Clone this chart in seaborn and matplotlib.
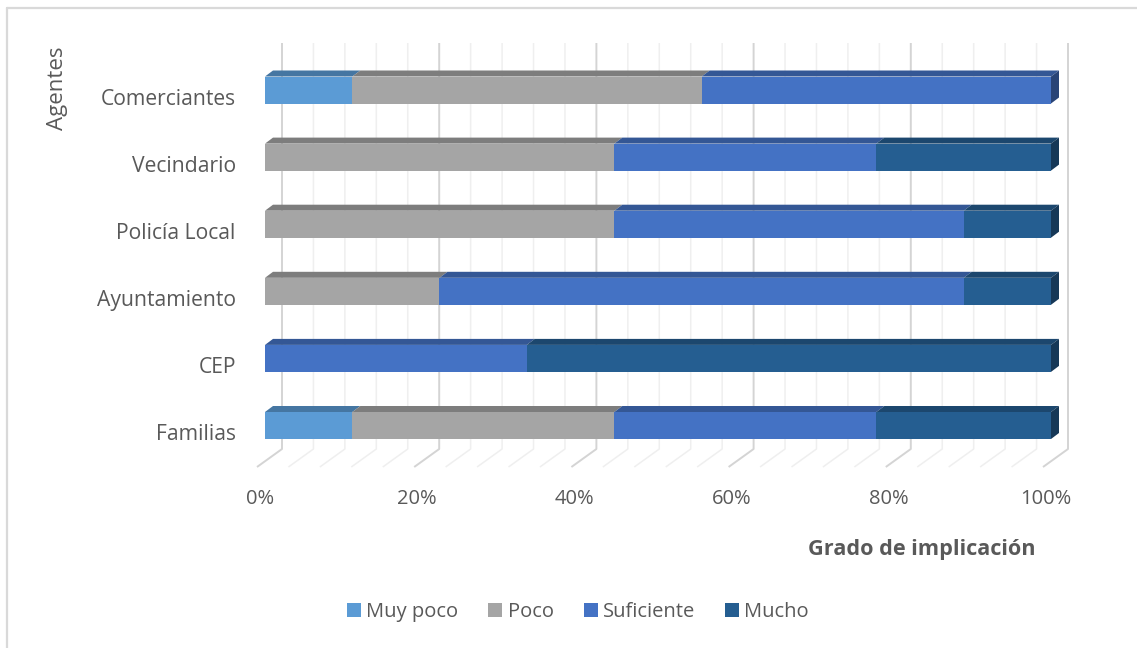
import numpy as np
import pandas as pd
import matplotlib
matplotlib.use("Agg")
import matplotlib.pyplot as plt
import matplotlib.transforms as mtransforms
from matplotlib.patches import Polygon
from matplotlib.lines import Line2D
from matplotlib.patches import Patch
import seaborn as sns

# ---------------- data ----------------
categories = ["Comerciantes", "Vecindario", "Policía Local", "Ayuntamiento", "CEP", "Familias"]
series_names = ["Muy poco", "Poco", "Suficiente", "Mucho"]
muy_poco = [11.1, 0.0, 0.0, 0.0, 0.0, 11.1]
poco = [44.4, 44.4, 44.4, 22.2, 0.0, 33.3]
suficiente = [44.4, 33.3, 44.4, 66.7, 33.3, 33.3]
mucho = [0.0, 22.2, 11.1, 11.1, 66.7, 22.2]
x_ticks = [0, 20, 40, 60, 80, 100]
x_tick_labels = ["0%", "20%", "40%", "60%", "80%", "100%"]

colors = ["#5B9BD5", "#A5A5A5", "#4472C4", "#255E91"]

# ---------------- style ----------------
sns.set_theme(style="white")
plt.rcParams["font.family"] = ["Open Sans", "DejaVu Sans"]
TXT = "#595959"

W, H = 1137, 648
fig = plt.figure(figsize=(W / 100, H / 100), dpi=100)

# axes placement in pixels
ax_l, ax_r, ax_t, ax_b = 240, 1080, 40, 470
ax = fig.add_axes([ax_l / W, 1 - ax_b / H, (ax_r - ax_l) / W, (ax_b - ax_t) / H])

# pixel mapping of data: 0% -> 265px, 100% -> 1051px ; category centers 90px .. 425.5px
x0px, x100px = 265.0, 1051.0
sx = (x100px - x0px) / 100.0
y0px, y5px = 90.0, 425.5
sy = (y5px - y0px) / 5.0
xlim = ((ax_l - x0px) / sx, 100 + (ax_r - x100px) / sx)
ylim_top = 0 - (y0px - ax_t) / sy
ylim_bot = 5 + (ax_b - y5px) / sy

def ydata(p):
    return ylim_top + (p - ax_t) / sy

df = pd.DataFrame({"Agente": categories, "Muy poco": muy_poco, "Poco": poco,
                   "Suficiente": suficiente, "Mucho": mucho})
vals = df[series_names].to_numpy(dtype=float)
vals = vals / vals.sum(axis=1, keepdims=True) * 100.0
cum = np.cumsum(vals, axis=1)
starts = cum - vals

# ---------------- back wall + floor gridlines ----------------
back_dx = 17 / sx
front_dx = -8 / sx
y_top_wall = ydata(43)
y_floor_back = ydata(449)
y_floor_front = ydata(467)
for v in np.arange(0, 101, 4):
    major = (v % 20 == 0)
    col = "#D4D4D4" if major else "#EFEFEF"
    lw = 1.4 if major else 1.1
    ax.plot([v + back_dx, v + back_dx, v + front_dx],
            [y_top_wall, y_floor_back, y_floor_front],
            color=col, lw=lw, zorder=0, solid_capstyle="butt", clip_on=False)

# ---------------- bars (stacked, drawn as cumulative) ----------------
bar_w = 27 / sy
for i in range(len(series_names) - 1, -1, -1):
    sns.barplot(x=cum[:, i], y=df["Agente"], orient="h", color=colors[i],
                width=bar_w, ax=ax, zorder=2, linewidth=0, saturation=1)

def shade(c, f):
    r, g, b = matplotlib.colors.to_rgb(c)
    return (r * f, g * f, b * f)

ddx = 8 / sx
ddy = -6 / sy
for r in range(len(categories)):
    top = r - bar_w / 2
    bot = r + bar_w / 2
    last = None
    for i in range(len(series_names)):
        l, rr = starts[r, i], cum[r, i]
        if rr - l <= 0:
            continue
        poly = Polygon([[l, top], [rr, top], [rr + ddx, top + ddy], [l + ddx, top + ddy]],
                       closed=True, facecolor=shade(colors[i], 0.76), edgecolor="none", zorder=3)
        ax.add_patch(poly)
        last = i
    rr = cum[r, -1]
    side = Polygon([[rr, top], [rr + ddx, top + ddy], [rr + ddx, bot + ddy], [rr, bot]],
                   closed=True, facecolor=shade(colors[last], 0.6), edgecolor="none", zorder=3)
    ax.add_patch(side)

ax.set_xlim(*xlim)
ax.set_ylim(ylim_bot, ylim_top)
for s in ax.spines.values():
    s.set_visible(False)
ax.set_xlabel("")
ax.set_ylabel("")
ax.set_xticks(x_ticks)
ax.set_xticklabels(x_tick_labels)
ax.set_yticks(range(len(categories)))
ax.set_yticklabels(categories)
ax.tick_params(axis="x", length=0, pad=14, labelsize=14.5, labelcolor=TXT)
ax.tick_params(axis="y", length=0, pad=3, labelsize=15.2, labelcolor=TXT)
offx = mtransforms.ScaledTranslation(-5 / 100, 0, fig.dpi_scale_trans)
for lab in ax.get_xticklabels():
    lab.set_transform(lab.get_transform() + offx)
offy = mtransforms.ScaledTranslation(0, -7 / 100, fig.dpi_scale_trans)
for lab in ax.get_yticklabels():
    lab.set_transform(lab.get_transform() + offy)
ax.set_facecolor("none")

# ---------------- texts ----------------
fig.text(57 / W, 1 - 88 / H, "Agentes", rotation=90, ha="center", va="center",
         fontsize=16, color=TXT)
fig.text(922 / W, 1 - 549 / H, "Grado de implicación", ha="center", va="center",
         fontsize=15.6, fontweight="bold", color=TXT)

handles = [Patch(facecolor=c, edgecolor="none") for c in colors]
leg = fig.legend(handles, series_names, loc="center", bbox_to_anchor=(578 / W, 1 - 612 / H),
                 ncol=4, frameon=False, fontsize=14.5, handlelength=0.7, handleheight=0.7,
                 handletextpad=0.25, columnspacing=1.5)
for t in leg.get_texts():
    t.set_color(TXT)

# chart border (left and top edges visible)
fig.add_artist(Line2D([7 / W, 7 / W], [0, 1 - 8 / H], color="#D9D9D9", lw=1.6,
                      transform=fig.transFigure))
fig.add_artist(Line2D([7 / W, 1], [1 - 8 / H, 1 - 8 / H], color="#D9D9D9", lw=1.6,
                      transform=fig.transFigure))

fig.savefig("out.png", dpi=100, facecolor="white")
